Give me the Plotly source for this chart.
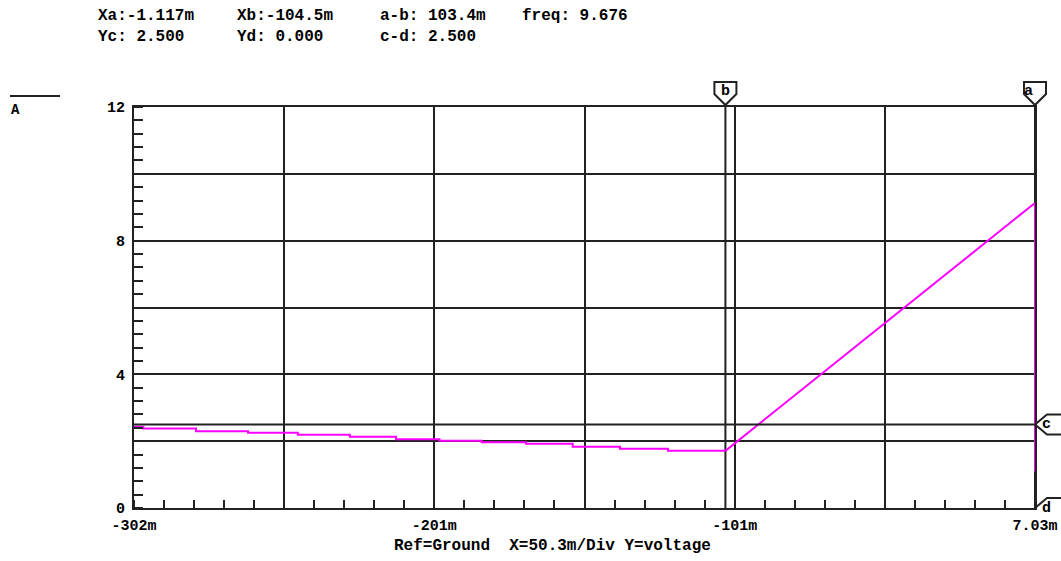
import plotly.graph_objects as go

# ---- data (time in ms, voltage in V) ----
stair_time = [-302.0, -298.9, -281.3, -263.9, -247.3, -229.9, -214.5, -200.0,
              -185.9, -171.1, -155.5, -139.7, -123.7, -104.5]
stair_volt = [2.43, 2.38, 2.30, 2.25, 2.19, 2.13, 2.06, 2.01,
              1.97, 1.92, 1.83, 1.77, 1.71, 1.71]
ramp_time = [-104.5, -1.117, -1.117]
ramp_volt = [1.71, 9.13, 1.09]

x_range = [-302.0, -1.117]
y_range = [0, 12]
x_ticktext = ["-302m", "", "-201m", "", "-101m", "", "7.03m"]
y_tickvals = [0, 2, 4, 6, 8, 10, 12]
y_ticktext = ["0", "", "4", "", "8", "", "12"]

cursor_a = -1.117
cursor_b = -104.5
cursor_c = 2.5
cursor_d = 0.0

header_row1 = ["Xa:-1.117m", "Xb:-104.5m", "a-b: 103.4m", "freq: 9.676"]
header_row2 = ["Yc: 2.500", "Yd: 0.000", "c-d: 2.500"]
header_cols_px = [96, 235, 378, 520]
bottom_title = "Ref=Ground  X=50.3m/Div Y=voltage"

# ---- layout geometry (page pixels) ----
W, H = 1061, 561
PL, PT, PR, PB = 134, 107, 1035, 508          # plot box in page pixels
ML, MT = PL, PT
MR, MB = W - PR, H - PB
PW, PH = PR - PL, PB - PT
div = (x_range[1] - x_range[0]) / 6
x_tickvals = [x_range[0] + k * div for k in range(7)]

def px2paper_x(px):
    return (px - PL) / PW

def px2paper_y(py):
    return (PB - py) / PH

def data2paper_x(v):
    return (v - x_range[0]) / (x_range[1] - x_range[0])

INK = "#222222"
MAG = "#ff00ff"
FONT = "Liberation Mono"

fig = go.Figure()
fig.add_trace(go.Scatter(x=stair_time, y=stair_volt, mode="lines",
                         line=dict(color=MAG, width=2, shape="hv"),
                         showlegend=False, hoverinfo="skip"))
fig.add_trace(go.Scatter(x=ramp_time, y=ramp_volt, mode="lines",
                         line=dict(color=MAG, width=2),
                         showlegend=False, hoverinfo="skip", cliponaxis=False))

shapes = []
for cx in (cursor_a, cursor_b):
    shapes.append(dict(type="line", xref="x", yref="y", x0=cx, x1=cx,
                       y0=y_range[0], y1=y_range[1],
                       line=dict(color=INK, width=2), layer="below"))
shapes.append(dict(type="line", xref="x", yref="y", x0=x_range[0], x1=x_range[1],
                   y0=cursor_c, y1=cursor_c, line=dict(color=INK, width=2),
                   layer="above"))
# markers a, b above the plot
for cx in (cursor_a, cursor_b):
    shapes.append(dict(type="path", xref="paper", yref="paper",
                       xsizemode="pixel", ysizemode="pixel",
                       xanchor=data2paper_x(cx), yanchor=1,
                       path="M -11,13 L -11,25 L 11,25 L 11,13 L 0,2 Z",
                       line=dict(color=INK, width=2), fillcolor="white",
                       layer="above"))
# markers c, d right of the plot
for cy in (cursor_c, cursor_d):
    shapes.append(dict(type="path", xref="paper", yref="y",
                       xsizemode="pixel", ysizemode="pixel",
                       xanchor=1, yanchor=cy,
                       path="M 0,0 L 12,10 L 26,10 M 0,0 L 12,-10 L 26,-10",
                       line=dict(color=INK, width=2), layer="above"))
# legend line above "A"
shapes.append(dict(type="line", xref="paper", yref="paper",
                   x0=px2paper_x(10), x1=px2paper_x(60),
                   y0=px2paper_y(96), y1=px2paper_y(96),
                   line=dict(color=INK, width=2)))

BOLD = dict(family=FONT, size=15, color="black", weight="bold")
annotations = []
for txt, cx in zip(["a", "b"], [cursor_a, cursor_b]):
    annotations.append(dict(text=txt, x=data2paper_x(cx), y=px2paper_y(91),
                            xref="paper", yref="paper", yanchor="middle",
                            showarrow=False, font=BOLD))
for txt, cy in zip(["c", "d"], [cursor_c, cursor_d]):
    annotations.append(dict(text=txt, x=1, y=cy, xref="paper", yref="y",
                            xshift=18, showarrow=False, font=BOLD))
for row, py in ((header_row1, 16), (header_row2, 37)):
    for txt, px in zip(row, header_cols_px):
        annotations.append(dict(text=txt, x=px2paper_x(px), y=px2paper_y(py),
                                xref="paper", yref="paper", xanchor="left",
                                yanchor="middle", showarrow=False,
                                font=dict(family=FONT, size=16, color="black",
                                          weight="bold")))
annotations.append(dict(text=bottom_title, x=px2paper_x(392), y=px2paper_y(546),
                        xref="paper", yref="paper", xanchor="left", yanchor="middle",
                        showarrow=False,
                        font=dict(family=FONT, size=16, color="black", weight="bold")))
annotations.append(dict(text="A", x=px2paper_x(9), y=px2paper_y(110),
                        xref="paper", yref="paper", xanchor="left", yanchor="middle",
                        showarrow=False,
                        font=dict(family=FONT, size=14, color="black", weight="bold")))

fig.update_layout(
    template="none",
    width=W, height=H, autosize=False,
    margin=dict(l=ML, r=MR, t=MT, b=MB, pad=0),
    paper_bgcolor="white", plot_bgcolor="white",
    shapes=shapes, annotations=annotations,
    font=dict(family=FONT, size=15, color="black", weight="bold"),
)
fig.update_xaxes(range=x_range, tickvals=x_tickvals, ticktext=x_ticktext,
                 automargin=False,
                 ticks="", showgrid=True, gridcolor=INK, gridwidth=2,
                 zeroline=False, showline=True, linecolor=INK, linewidth=2,
                 mirror=True, ticklabelstandoff=2,
                 minor=dict(tick0=x_range[0], dtick=div / 5, ticks="inside",
                            ticklen=8, tickwidth=2, tickcolor=INK, showgrid=False))
fig.update_yaxes(range=y_range, tickvals=y_tickvals, ticktext=y_ticktext,
                 automargin=False,
                 ticks="", showgrid=True, gridcolor=INK, gridwidth=2,
                 zeroline=False, showline=True, linecolor=INK, linewidth=2,
                 mirror=True, ticklabelstandoff=4,
                 minor=dict(tick0=0, dtick=0.4, ticks="inside",
                            ticklen=9, tickwidth=2, tickcolor=INK, showgrid=False))

fig.write_html("out.html", config={"displayModeBar": False},
               post_script="document.body.style.margin='0';")
